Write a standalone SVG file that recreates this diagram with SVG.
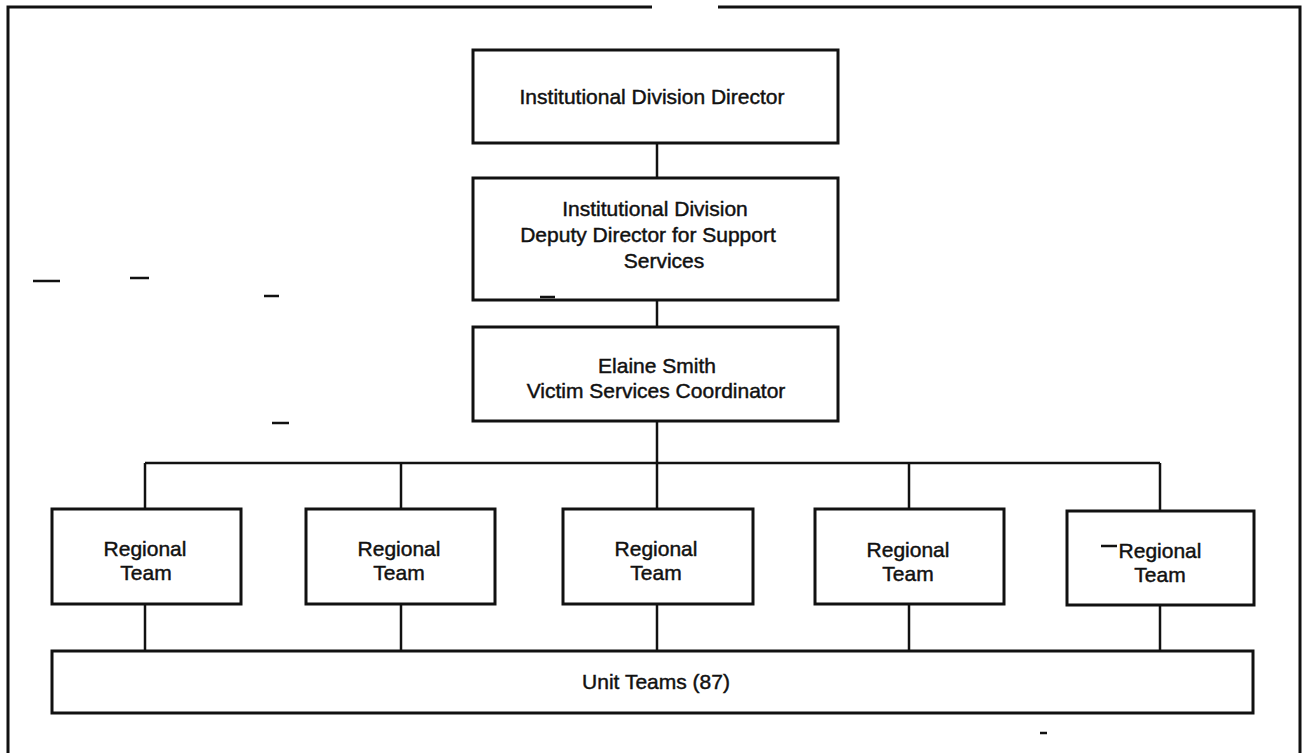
<svg xmlns="http://www.w3.org/2000/svg" width="1304" height="753" viewBox="0 0 1304 753">
  <style>
    .box { fill: #ffffff; stroke: #111111; stroke-width: 3; }
    .wire { fill: none; stroke: #111111; stroke-width: 2.5; }
    .frame { fill: none; stroke: #111111; stroke-width: 3; }
    .mark { stroke: #111111; stroke-width: 2.5; }
    text { font-family: "Liberation Sans", Arial, Helvetica, sans-serif; font-size: 21px; fill: #111111; stroke: #111111; stroke-width: 0.45; text-anchor: middle; }
  </style>

  <rect x="0" y="0" width="1304" height="753" fill="#ffffff"/>

  <!-- page frame (open at the bottom) -->
  <g id="frame">
    <path class="frame" d="M8,753 V7 H652"/>
    <path class="frame" d="M718,7 H1300 V753"/>
  </g>

  <!-- connectors -->
  <g id="connectors">
    <line class="wire" x1="657" y1="143" x2="657" y2="178"/>
    <line class="wire" x1="657" y1="300" x2="657" y2="327"/>
    <line class="wire" x1="657" y1="421" x2="657" y2="463"/>
    <line class="wire" x1="145" y1="463" x2="1160" y2="463"/>
    <line class="wire" x1="145" y1="463" x2="145" y2="509"/>
    <line class="wire" x1="401" y1="463" x2="401" y2="509"/>
    <line class="wire" x1="657" y1="463" x2="657" y2="509"/>
    <line class="wire" x1="909" y1="463" x2="909" y2="509"/>
    <line class="wire" x1="1160" y1="463" x2="1160" y2="511"/>
    <line class="wire" x1="145" y1="604" x2="145" y2="651"/>
    <line class="wire" x1="401" y1="604" x2="401" y2="651"/>
    <line class="wire" x1="657" y1="604" x2="657" y2="651"/>
    <line class="wire" x1="909" y1="604" x2="909" y2="651"/>
    <line class="wire" x1="1160" y1="605" x2="1160" y2="651"/>
  </g>

  <g id="director">
    <rect class="box" x="473" y="50" width="365" height="93"/>
    <text x="652" y="104">Institutional Division Director</text>
  </g>

  <g id="deputy-director">
    <rect class="box" x="473" y="178" width="365" height="122"/>
    <text x="655" y="216">Institutional Division</text>
    <text x="648" y="242">Deputy Director for Support</text>
    <text x="664" y="268">Services</text>
  </g>

  <g id="coordinator">
    <rect class="box" x="473" y="327" width="365" height="94"/>
    <text x="657" y="373">Elaine Smith</text>
    <text x="656" y="398">Victim Services Coordinator</text>
  </g>

  <g id="regional-team-1">
    <rect class="box" x="52" y="509" width="189" height="95"/>
    <text x="145" y="556">Regional</text>
    <text x="146" y="580">Team</text>
  </g>

  <g id="regional-team-2">
    <rect class="box" x="306" y="509" width="189" height="95"/>
    <text x="399" y="556">Regional</text>
    <text x="399" y="580">Team</text>
  </g>

  <g id="regional-team-3">
    <rect class="box" x="563" y="509" width="190" height="95"/>
    <text x="656" y="556">Regional</text>
    <text x="656" y="580">Team</text>
  </g>

  <g id="regional-team-4">
    <rect class="box" x="815" y="509" width="189" height="95"/>
    <text x="908" y="557">Regional</text>
    <text x="908" y="581">Team</text>
  </g>

  <g id="regional-team-5">
    <rect class="box" x="1067" y="511" width="187" height="94"/>
    <line class="mark" x1="1101" y1="546" x2="1117" y2="546" stroke-width="1.5"/>
    <text x="1160" y="558">Regional</text>
    <text x="1160" y="582">Team</text>
  </g>

  <g id="unit-teams">
    <rect class="box" x="52" y="651" width="1201" height="62"/>
    <text x="656" y="689">Unit Teams (87)</text>
  </g>

  <!-- loose print marks -->
  <g id="marks">
    <line class="mark" x1="33" y1="281" x2="60" y2="281" stroke-width="3"/>
    <line class="mark" x1="130" y1="278" x2="149" y2="278"/>
    <line class="mark" x1="264" y1="296" x2="279" y2="296" stroke-width="2"/>
    <line class="mark" x1="272" y1="423" x2="289" y2="423"/>
    <line class="mark" x1="540" y1="297" x2="555" y2="297"/>
    <line class="mark" x1="1040" y1="733" x2="1047" y2="733" stroke-width="2"/>
  </g>
</svg>
